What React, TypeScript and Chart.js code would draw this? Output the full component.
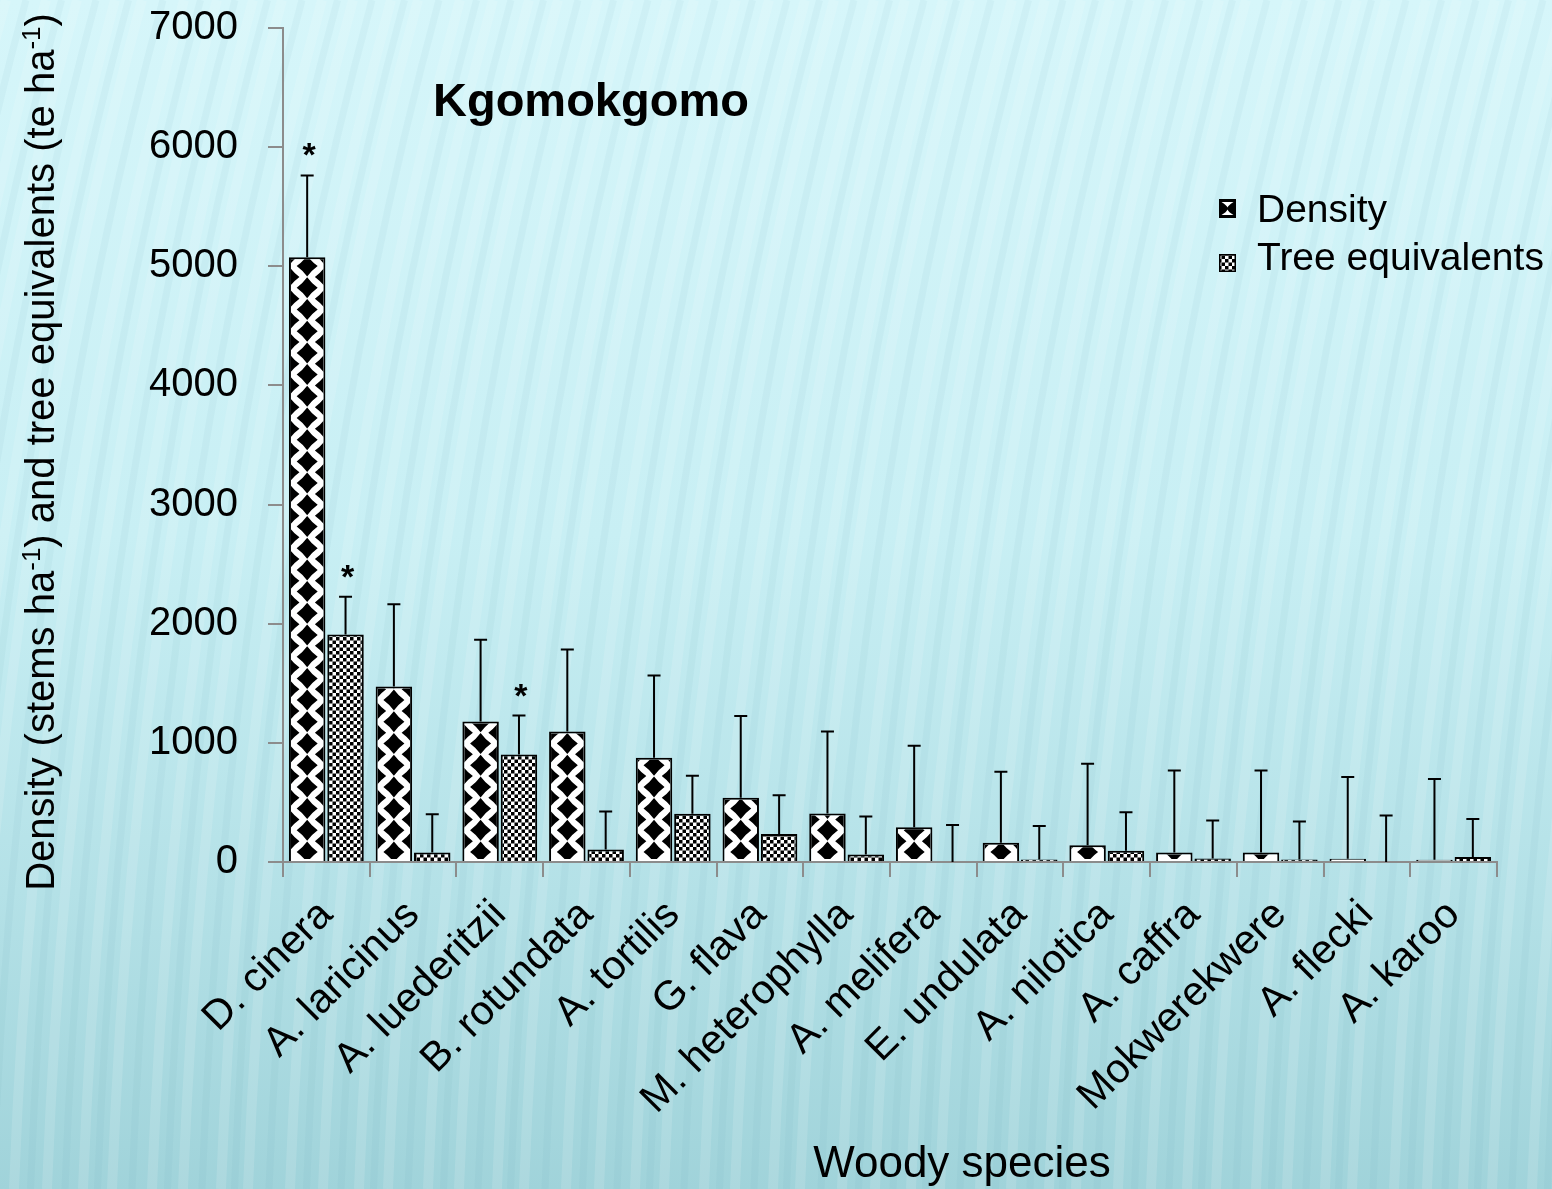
import React, { useEffect, useRef } from "react";
import { Chart, registerables } from "chart.js";

Chart.register(...registerables);

// ---------------- data ----------------
const categories = [
  "D. cinera",
  "A. laricinus",
  "A. luederitzii",
  "B. rotundata",
  "A. tortilis",
  "G. flava",
  "M. heterophylla",
  "A. melifera",
  "E. undulata",
  "A. nilotica",
  "A. caffra",
  "Mokwerekwere",
  "A. flecki",
  "A. karoo",
];
const densityValues = [5075, 1472, 1180, 1095, 875, 540, 407, 291, 162, 140, 80, 80, 28, 18];
const densityErrors = [688, 691, 686, 688, 690, 685, 688, 685, 596, 685, 688, 688, 686, 679];
const densityStars = [true, false, false, false, false, false, false, false, false, false, false, false, false, false];
const treeValues = [1910, 80, 902, 105, 405, 235, 63, 0, 22, 95, 30, 20, 0, 43];
const treeErrors = [317, 320, 327, 319, 319, 325, 319, 310, 280, 322, 318, 320, 390, 317];
const treeStars = [true, false, true, false, false, false, false, false, false, false, false, false, false, false];
const seriesNames = ["Density", "Tree equivalents"];
const chartTitle = "Kgomokgomo";
const xTitle = "Woody species";
const yTitleParts: [string, boolean][] = [
  ["Density (stems ha", false],
  ["-1", true],
  [") and tree equivalents (te ha", false],
  ["-1", true],
  [")", false],
];

const FONT = '"Liberation Sans", Arial, sans-serif';
const AXIS_COLOR = "#8c8c8c";

function makeCheckerPattern(ctx: CanvasRenderingContext2D): CanvasPattern | string {
  const c = document.createElement("canvas");
  c.width = 7;
  c.height = 7;
  const g = c.getContext("2d");
  if (!g) return "#888";
  g.fillStyle = "#fff";
  g.fillRect(0, 0, 7, 7);
  g.fillStyle = "#000";
  g.fillRect(0, 0, 3.5, 3.5);
  g.fillRect(3.5, 3.5, 3.5, 3.5);
  return ctx.createPattern(c, "repeat") || "#888";
}

function diamond(ctx: CanvasRenderingContext2D, cx: number, cy: number, r: number) {
  const k = 0.42;
  ctx.beginPath();
  ctx.moveTo(cx, cy - r);
  ctx.quadraticCurveTo(cx + r * k, cy - r * k, cx + r, cy);
  ctx.quadraticCurveTo(cx + r * k, cy + r * k, cx, cy + r);
  ctx.quadraticCurveTo(cx - r * k, cy + r * k, cx - r, cy);
  ctx.quadraticCurveTo(cx - r * k, cy - r * k, cx, cy - r);
  ctx.closePath();
  ctx.fill();
}

const backgroundPlugin = {
  id: "bg",
  beforeDraw(chart: any) {
    const { ctx, width, height } = chart;
    ctx.save();
    const g = ctx.createLinearGradient(0, 0, 0, height);
    g.addColorStop(0, "#d6f6fa");
    g.addColorStop(0.45, "#c8eff4");
    g.addColorStop(0.75, "#b4e1e7");
    g.addColorStop(1, "#a0d3da");
    ctx.fillStyle = g;
    ctx.fillRect(0, 0, width, height);
    // soft streaks (decoration)
    const spacing = [31, 38, 27, 42, 33, 36, 29, 40];
    let x0 = -400;
    let n = 0;
    while (x0 < width + 50) {
      const s = spacing[n % spacing.length];
      ctx.beginPath();
      ctx.moveTo(x0, height);
      ctx.quadraticCurveTo(x0 + 25, height * 0.45, x0 + 170, 0);
      ctx.strokeStyle = "rgba(255,255,255,0.13)";
      ctx.lineWidth = 10;
      ctx.stroke();
      ctx.beginPath();
      ctx.moveTo(x0 + s / 2, height);
      ctx.quadraticCurveTo(x0 + s / 2 + 25, height * 0.45, x0 + s / 2 + 170, 0);
      ctx.strokeStyle = "rgba(80,150,165,0.06)";
      ctx.lineWidth = 7;
      ctx.stroke();
      x0 += s;
      n++;
    }
    ctx.restore();
  },
};

const overlayPlugin = {
  id: "overlay",
  afterDatasetsDraw(chart: any) {
    const ctx: CanvasRenderingContext2D = chart.ctx;
    const yScale = chart.scales.y;
    const bw = 2;
    // density diamond pattern, aligned to each bar
    const meta0 = chart.getDatasetMeta(0);
    meta0.data.forEach((bar: any) => {
      const { x, y, base, width } = bar.getProps(["x", "y", "base", "width"], true);
      const left = x - width / 2;
      const right = x + width / 2;
      const top = y + bw;
      const bottom = base - bw;
      if (bottom - top <= 0.5) return;
      ctx.save();
      ctx.beginPath();
      ctx.rect(left + bw, top, width - 2 * bw, bottom - top);
      ctx.clip();
      ctx.fillStyle = "#000";
      const P = 21.7;
      const r = 10.5;
      for (let k = 0; k < 400; k++) {
        const cy = base - 9 - k * P;
        if (cy < top - P) break;
        diamond(ctx, x, cy, r);
        diamond(ctx, left, cy - P / 2, r);
        diamond(ctx, right, cy - P / 2, r);
      }
      ctx.restore();
    });

    // error bars and significance stars
    const errs = [densityErrors, treeErrors];
    const vals = [densityValues, treeValues];
    const stars = [densityStars, treeStars];
    for (let d = 0; d < 2; d++) {
      const meta = chart.getDatasetMeta(d);
      meta.data.forEach((bar: any, i: number) => {
        const { x, y } = bar.getProps(["x", "y"], true);
        const yTop = yScale.getPixelForValue(vals[d][i] + errs[d][i]);
        ctx.save();
        ctx.strokeStyle = "#000";
        ctx.lineWidth = 2;
        ctx.beginPath();
        ctx.moveTo(x, y);
        ctx.lineTo(x, yTop);
        ctx.moveTo(x - 6.5, yTop);
        ctx.lineTo(x + 6.5, yTop);
        ctx.stroke();
        if (stars[d][i]) {
          ctx.fillStyle = "#000";
          ctx.font = `bold 34px ${FONT}`;
          ctx.textAlign = "center";
          ctx.textBaseline = "alphabetic";
          ctx.fillText("*", x + 2, yTop - 9);
        }
        ctx.restore();
      });
    }
  },
  afterDraw(chart: any) {
    const ctx: CanvasRenderingContext2D = chart.ctx;
    ctx.save();
    // title
    ctx.fillStyle = "#000";
    ctx.font = `bold 47px ${FONT}`;
    ctx.textAlign = "left";
    ctx.textBaseline = "alphabetic";
    ctx.fillText(chartTitle, 433, 116);

    // legend
    ctx.font = `39px ${FONT}`;
    ctx.fillText(seriesNames[0], 1257, 222);
    ctx.fillText(seriesNames[1], 1257, 270);
    // density icon
    const ix = 1219, iy = 199, iw = 17, ih = 19;
    ctx.fillStyle = "#000";
    ctx.fillRect(ix, iy, iw, ih);
    ctx.fillStyle = "#fff";
    ctx.beginPath();
    ctx.moveTo(ix + 2.5, iy + 3);
    ctx.lineTo(ix + iw - 2.5, iy + 3);
    ctx.quadraticCurveTo(ix + iw / 2 + 1, iy + 6, ix + iw / 2, iy + ih / 2 - 1);
    ctx.quadraticCurveTo(ix + iw / 2 - 1, iy + 6, ix + 2.5, iy + 3);
    ctx.fill();
    ctx.beginPath();
    ctx.moveTo(ix + 2.5, iy + ih - 3);
    ctx.lineTo(ix + iw - 2.5, iy + ih - 3);
    ctx.quadraticCurveTo(ix + iw / 2 + 1, iy + ih - 6, ix + iw / 2, iy + ih / 2 + 1);
    ctx.quadraticCurveTo(ix + iw / 2 - 1, iy + ih - 6, ix + 2.5, iy + ih - 3);
    ctx.fill();
    // tree icon
    const tx = 1219, ty = 254, tw = 17, th = 18;
    ctx.fillStyle = chart.$checker;
    ctx.fillRect(tx, ty, tw, th);
    ctx.strokeStyle = "#000";
    ctx.lineWidth = 1.5;
    ctx.strokeRect(tx + 0.75, ty + 0.75, tw - 1.5, th - 1.5);

    // x axis title
    ctx.fillStyle = "#000";
    ctx.font = `44px ${FONT}`;
    ctx.textAlign = "center";
    ctx.fillText(xTitle, 962, 1177);

    // y axis title (rotated, with superscripts)
    ctx.translate(54, 452);
    ctx.rotate(-Math.PI / 2);
    const mainFont = `40px ${FONT}`;
    const supFont = `26px ${FONT}`;
    let total = 0;
    for (const [t, sup] of yTitleParts) {
      ctx.font = sup ? supFont : mainFont;
      total += ctx.measureText(t).width;
    }
    let cx = -total / 2;
    ctx.textAlign = "left";
    for (const [t, sup] of yTitleParts) {
      ctx.font = sup ? supFont : mainFont;
      ctx.fillText(t, cx, sup ? -14 : 0);
      cx += ctx.measureText(t).width;
    }
    ctx.restore();
  },
};

export default function App() {
  const canvasRef = useRef<HTMLCanvasElement | null>(null);

  useEffect(() => {
    document.body.style.margin = "0";
    const canvas = canvasRef.current;
    if (!canvas) return;
    const ctx = canvas.getContext("2d");
    if (!ctx) return;
    const checker = makeCheckerPattern(ctx);

    const chart = new Chart(ctx, {
      type: "bar",
      data: {
        labels: categories,
        datasets: [
          {
            label: seriesNames[0],
            data: densityValues,
            backgroundColor: "#ffffff",
            borderColor: "#000000",
            borderWidth: 2,
            categoryPercentage: 0.885,
            barPercentage: 0.95,
          },
          {
            label: seriesNames[1],
            data: treeValues,
            backgroundColor: checker as any,
            borderColor: "#000000",
            borderWidth: 2,
            categoryPercentage: 0.885,
            barPercentage: 0.95,
          },
        ],
      },
      options: {
        responsive: false,
        animation: false,
        layout: { padding: { top: 28, right: 55, left: 0, bottom: 0 } },
        plugins: {
          legend: { display: false },
          tooltip: { enabled: false },
          title: { display: false },
        },
        scales: {
          x: {
            offset: true,
            grid: {
              display: true,
              drawOnChartArea: false,
              drawTicks: true,
              tickLength: 15,
              color: AXIS_COLOR,
              lineWidth: 2,
              offset: true,
            },
            border: { display: true, color: AXIS_COLOR, width: 2 },
            ticks: {
              color: "#000",
              font: { family: FONT, size: 41 },
              minRotation: 45,
              maxRotation: 45,
              autoSkip: false,
              padding: 14,
            },
            afterFit: (s: any) => {
              s.height = 327;
              s.paddingTop = 0;
            },
          },
          y: {
            min: 0,
            max: 7000,
            grid: {
              display: true,
              drawOnChartArea: false,
              drawTicks: true,
              tickLength: 15,
              color: AXIS_COLOR,
              lineWidth: 2,
            },
            border: { display: true, color: AXIS_COLOR, width: 2 },
            ticks: {
              stepSize: 1000,
              color: "#000",
              font: { family: FONT, size: 40 },
              padding: 30,
              callback: (v: any) => String(v),
            },
            afterFit: (s: any) => {
              s.width = 283;
              s.paddingTop = 0;
              s.paddingBottom = 0;
            },
          },
        },
      },
      plugins: [backgroundPlugin, overlayPlugin],
    } as any);
    (chart as any).$checker = checker;
    chart.draw();

    return () => {
      chart.destroy();
    };
  }, []);

  return (
    <div style={{ width: 1552, height: 1189, position: "relative" }}>
      <canvas ref={canvasRef} width={1552} height={1189} style={{ display: "block" }} />
    </div>
  );
}
